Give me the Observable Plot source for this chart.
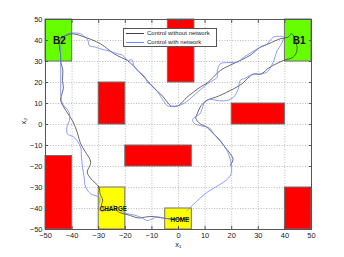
<!DOCTYPE html>
<html><head><meta charset="utf-8">
<script src="https://cdn.jsdelivr.net/npm/d3@7"></script>
<script src="https://cdn.jsdelivr.net/npm/@observablehq/plot@0.6"></script>
<style>
body{margin:0;background:#fff;font-family:"Liberation Sans",Arial,sans-serif;}
#wrap{position:relative;width:344px;height:257px;}
#legend{position:absolute;left:123px;top:28px;width:94px;height:19px;border:1px solid #555;background:#fff;font-size:6px;color:#222;box-sizing:border-box;}
#legend .row{position:absolute;left:2px;height:8px;line-height:8px;display:flex;align-items:center;white-space:nowrap;}
#legend .sw{display:inline-block;width:18px;height:0;border-top:1px solid;margin-right:3px;}
</style></head>
<body><div id="wrap"><div id="legend"></div></div>
<script>
// Obstacles / zones
const zoneX1 = [-50, 40, -4, -30, -20, 20, -50, 40, -30, -5];
const zoneX2 = [-40, 50, 6, -20, 5, 40, -40, 50, -20, 5];
const zoneY1 = [30, 30, 20, 0, -20, 0, -50, -50, -50, -50];
const zoneY2 = [50, 50, 50, 20, -10, 10, -15, -30, -30, -40];
const zoneKind = ["goal","goal","obstacle","obstacle","obstacle","obstacle","obstacle","obstacle","base","base"];

const labelText = ["B2", "B1", "CHARGE", "HOME"];
const labelX = [-44.8, 45.4, -24.5, 0.5];
const labelY = [39.7, 39.7, -40, -45.4];
const labelSize = [10, 10, 6.3, 6.3];

const seriesNames = ["Control without network", "Control with network"];
const seriesColors = ["#444444", "#6d84ff"];

const blackX = [19.5,20.5,19.5,17,15.7,12,10.7,8,6.5,7,8.5,10.7,15,20.7,24,26,28.2,31,34,39.5,43,44.5,44,42.6,41,38.2,34,30.7,27,23.2,19,15.7,11,8.2,3.2,0,-1.5,-3,-5,-6.8,-9,-11.8,-14,-17,-19.3,-24,-29.3,-35,-39.9,-42,-44.3,-44.8,-44.3,-44.3,-43.5,-43.6,-43.3,-44,-44.3,-42,-39.9,-38,-36.8,-35,-33,-34.3,-33,-29.9,-29.5,-28.5,-29,-27,-24,-22,-19,-15,-12,-10,-6,-3.6,1,4];
const blackY = [-19.5,-16.5,-14,-10,-7.6,-3,-1.3,0.5,3,5,9,11.5,13.5,17,19.5,22,24,24,27,30.5,32,35,40,43.2,41.5,40.8,38.5,36.8,33,30.5,28,25.7,20,17.8,13,9,8.7,9,12,14.6,17,21,24,28,30.5,33.5,38.4,41.5,43.2,42.5,41,38,33,30,26,21,17,14,11.4,6,1.9,-4,-9.2,-13,-18,-22.7,-25.7,-29.8,-33,-36,-39,-41,-40.5,-42,-43,-44.5,-44,-43.8,-44.5,-44.9,-45,-45];

const blueX = [0,-3,-6,-8,-10,-11.8,-14.3,-17,-19.3,-22,-24.3,-26,-27.4,-29.5,-30,-29.5,-29.9,-33,-34.9,-35.5,-36.1,-36.5,-36.8,-39.3,-41.8,-41.8,-41,-41,-41.5,-43.6,-44,-44.3,-44.3,-44.3,-44.3,-44.3,-43.6,-41.8,-38,-36.8,-35,-34,-33.6,-31,-29.3,-26,-23,-21,-19,-17.5,-16.8,-15.5,-13,-12,-11.8,-9.3,-7,-5,-4.3,-2,2,5,8.2,11,14.5,14.5,15.7,19,22,24.5,27,30.7,33,35.7,38,39.5,38.5,37,36,35,33.2,30,28.2,25,23.2,22.5,20.7,18,14.5,12,10,9,8,6,5.3,6,8,10,12,13.2,15,17,18.2,19.5,19.5,10,3.2];
const blueY = [-45.2,-45,-44.5,-44,-45,-45.7,-44.1,-43,-42.5,-41,-38.6,-40,-41,-41,-38,-36,-34.6,-33,-29.8,-25,-20.3,-15,-10.8,-6,-4.4,-0.5,1.9,5,6.7,9.8,12,14.6,20,27.3,33,36.8,40.8,43.2,43.5,43.2,41.5,40,37.6,36.8,36,35,33.7,33,30.5,30.8,28.1,25.7,23.3,21,20.2,17.8,14,10,9,8.5,10,13,16.5,19.5,22.5,24.9,28.9,29.5,29.7,32,34,36.8,38,41.6,42,41.6,38,35,31,28,24.9,24,24.1,22,21,17,13,11.4,11.4,12,11,8,5,3.5,2,0.5,-0.5,-1,-2,-4.4,-7,-10,-12.4,-17,-24.3,-33,-41];

const ticks = [-50,-40,-30,-20,-10,0,10,20,30,40,50];

const zones = zoneX1.map((x1,i)=>({x1, x2: zoneX2[i], y1: zoneY1[i], y2: zoneY2[i], kind: zoneKind[i]}));
const labels = labelText.map((t,i)=>({t, x: labelX[i], y: labelY[i], s: labelSize[i]}));
const black = blackX.map((x,i)=>({x, y: blackY[i]}));
const blue = blueX.map((x,i)=>({x, y: blueY[i]}));
const fillFor = {goal:"#66ff00", obstacle:"#ff0000", base:"#ffff00"};

const chart = Plot.plot({
  width: 344, height: 257,
  marginLeft: 45, marginRight: 33, marginTop: 19, marginBottom: 28,
  style: {fontFamily: "Liberation Sans, Arial, sans-serif", fontSize: "7.5px", color: "#222", background: "#fff"},
  x: {domain: [-50, 50], ticks, label: null},
  y: {domain: [-50, 50], ticks, label: null},
  marks: [
    Plot.gridX(ticks, {stroke: "#aaa", strokeOpacity: 0.8, strokeDasharray: "1,1.6"}),
    Plot.gridY(ticks, {stroke: "#aaa", strokeOpacity: 0.8, strokeDasharray: "1,1.6"}),
    Plot.rect(zones, {x1: "x1", x2: "x2", y1: "y1", y2: "y2", fill: d => fillFor[d.kind], stroke: "#707070", strokeWidth: 1}),
    Plot.line(black, {x: "x", y: "y", stroke: seriesColors[0], strokeWidth: 0.8, curve: "catmull-rom"}),
    Plot.line(blue, {x: "x", y: "y", stroke: seriesColors[1], strokeWidth: 0.8, curve: "catmull-rom"}),
    Plot.text(labels, {x: "x", y: "y", text: "t", fontSize: d => d.s, fontWeight: "bold", fill: "#111"}),
    Plot.frame({stroke: "#555"}),
    Plot.axisX(ticks, {tickSize: -3, tickPadding: 6, stroke: "#555"}),
    Plot.axisX(ticks, {anchor: "top", tickSize: -3, text: null, stroke: "#555"}),
    Plot.axisY(ticks, {tickSize: -3, tickPadding: 6, stroke: "#555"}),
    Plot.axisY(ticks, {anchor: "right", tickSize: -3, text: null, stroke: "#555"}),
    Plot.text(["x₁"], {frameAnchor: "bottom", dy: 17, fontSize: 7.5}),
    Plot.text(["x₂"], {frameAnchor: "left", dx: -22, rotate: -90, fontSize: 7.5})
  ]
});
const wrap = document.getElementById("wrap");
wrap.insertBefore(chart, wrap.firstChild);
const lg = document.getElementById("legend");
seriesNames.forEach((n,i)=>{
  const r = document.createElement("div");
  r.className = "row"; r.style.top = (i*9) + "px";
  r.innerHTML = `<span class="sw" style="border-color:${seriesColors[i]}"></span>${n}`;
  lg.appendChild(r);
});
</script></body></html>
